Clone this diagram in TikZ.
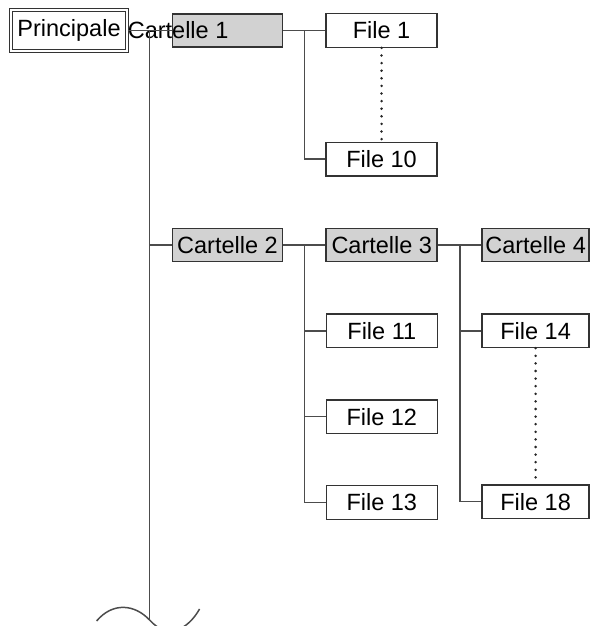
\documentclass[tikz,border=0pt]{standalone}
\usepackage{fontspec}
\setmainfont{Liberation Sans}
\usetikzlibrary{positioning,calc}

\begin{document}
\begin{tikzpicture}[
            x=1pt, y=1pt,
            every node/.style={align=center, font=\fontsize{23.5}{25}\selectfont},
            file/.style={draw=black!80, line width=1.3pt, fill=white, minimum width=111pt, minimum height=33.5pt, inner sep=0pt},
            folder/.style={file, fill=gray!35, line width=1.8pt, minimum height=33pt},
            link/.style={draw=black!70, line width=1.7pt},
            dots/.style={draw=black!85, line width=2.8pt, line cap=round, dash pattern=on 0pt off 7.6pt},
            node distance = 42pt
  ]

  \useasboundingbox (0,0) rectangle (598,-626);

  \node[file, double, double distance=1.8pt, line width=1.1pt, minimum width=116pt, minimum height=41pt] (principale) at (69,-30.5) {Principale};
  \node[folder, minimum width=110pt, label={[anchor=west, inner sep=0pt, xshift=-44pt]west:Cartelle 1}] (cartelle1) at (227.5,-30.5) {};

  \node[file] (file1) [right=42pt of cartelle1] {File 1};
  \node[file] (file10) [below=94pt of file1] {File 10};

  \node[folder, minimum width=110pt] (cartelle2) at (227.5,-245) {Cartelle 2};
  \node[folder] (cartelle3) [right=of cartelle2] {Cartelle 3};
  \node[folder, minimum width=107pt] (cartelle4) [right=43pt of cartelle3] {Cartelle 4};

  \node[file] (file11) [below=51pt of cartelle3] {File 11};
  \node[file] (file12) [below=51pt of file11] {File 12};
  \node[file] (file13) [below=51pt of file12] {File 13};

  \node[file, minimum width=107pt] (file14) [below=51pt of cartelle4] {File 14};
  \node[file, minimum width=107pt] (file18) [below=136pt of file14] {File 18};

  % trunk
  \coordinate (top) at ($(principale.east)!.5!(cartelle1.west)$);
  \coordinate (bottom) at (top |- 0,-620);
  \draw[link] (principale.east) -- (cartelle1.west);
  \draw[link] (top) -- (bottom);
  \draw[link] (cartelle2.west) -- (cartelle2.west -| top);

  % cartelle 1
  \coordinate (j1) at ($(cartelle1.east)!.5!(file1.west)$);
  \draw[link] (cartelle1.east) -- (file1.west);
  \draw[link] (j1) |- (file10.west);
  \draw[dots] (file1.south) -- (file10.north);

  % cartelle 2 and 3
  \coordinate (j2) at ($(cartelle2.east)!.5!(cartelle3.west)$);
  \draw[link] (cartelle2.east) -- (cartelle3.west);
  \draw[link] (j2) |- (file11.west);
  \draw[link] (j2) |- (file12.west);
  \draw[link] (j2) |- (file13.west);

  % cartelle 4
  \coordinate (j3) at ($(cartelle3.east)!.5!(cartelle4.west)$);
  \draw[link] (cartelle3.east) -- (cartelle4.west);
  \draw[link] (j3) |- (file14.west);
  \draw[link] (j3) |- (file18.west);
  \draw[dots] (file14.south) -- (file18.north);

  % break
  \draw[link, line width=1.5pt] ($(bottom)+(-53,-1)$) .. controls ($(bottom)+(-37,18)$) and ($(bottom)+(-15,16)$) .. (bottom)
        .. controls ($(bottom)+(18,-20)$) and ($(bottom)+(38,-10)$) .. ($(bottom)+(50,11)$);

\end{tikzpicture}
\end{document}
